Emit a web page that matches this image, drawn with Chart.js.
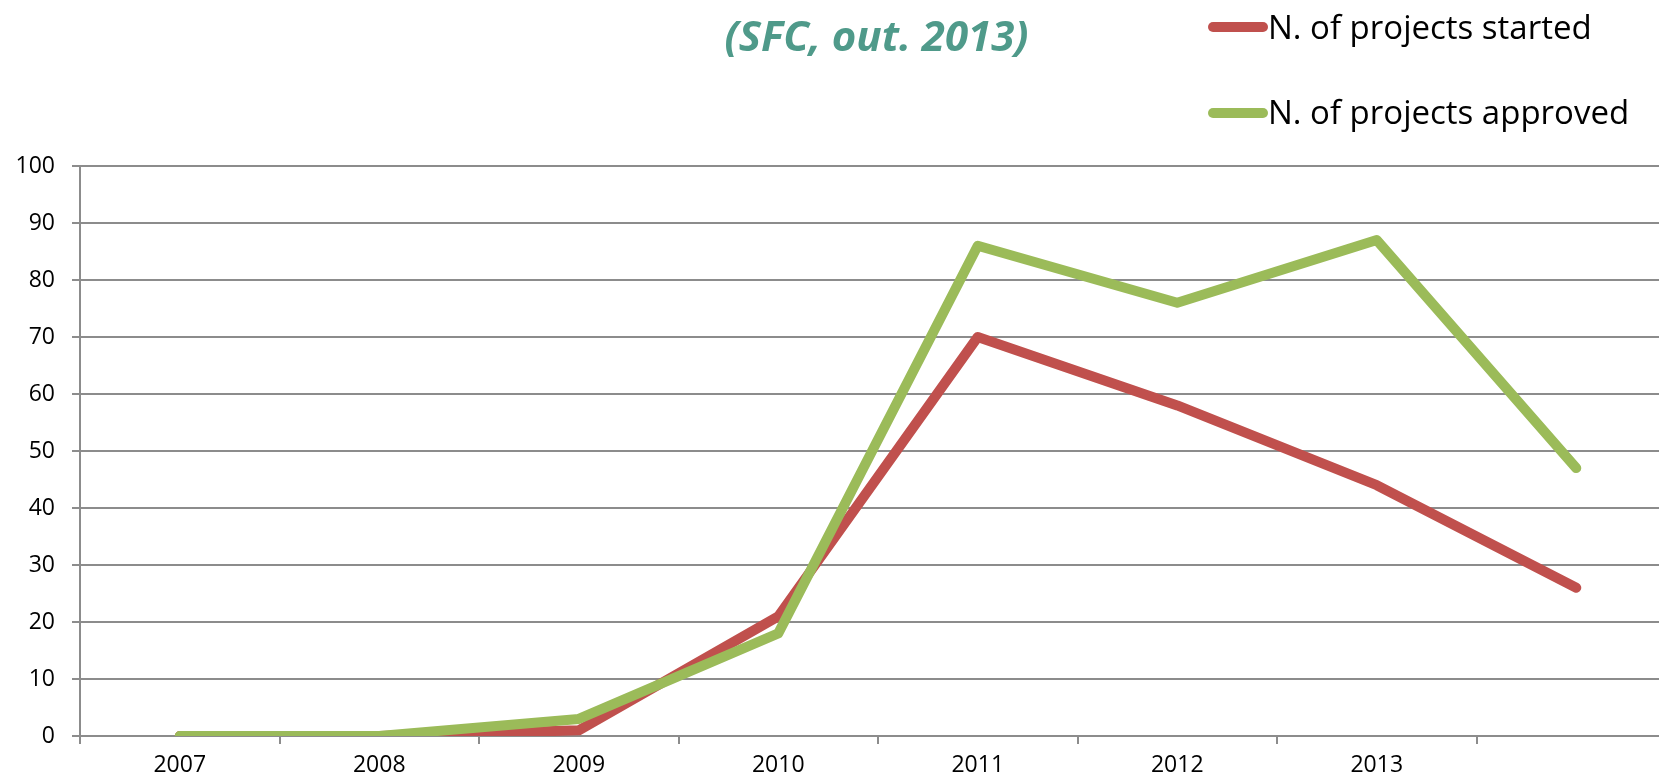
<!DOCTYPE html>
<html>
<head>
<meta charset="utf-8">
<script src="https://cdn.jsdelivr.net/npm/chart.js@4.4.1/dist/chart.umd.min.js"></script>
<style>
  html, body { margin: 0; padding: 0; background: #fff; overflow: hidden; }
  #wrap { position: relative; width: 1659px; height: 783px; overflow: hidden; }
  #chart { position: absolute; left: 0; top: 0; }
  .title {
    position: absolute; left: 0; width: 1753px; top: 14px;
    text-align: center; font: italic bold 42px/42px "Open Sans", sans-serif; color: #4f9a8a;
    white-space: nowrap;
  }
  .key { position: absolute; left: 1208px; width: 60px; height: 10px; border-radius: 5px; }
  .keytext {
    position: absolute; left: 1268px; font: 33px/33px "Open Sans", sans-serif; color: #000;
    white-space: nowrap;
  }
</style>
</head>
<body>
<div id="wrap">
  <canvas id="chart" width="1680" height="783"></canvas>
  <div class="title">(SFC, out. 2013)</div>
  <div class="key" style="top:22px; background:#c0504d"></div>
  <div class="keytext" style="top:10px">N. of projects started</div>
  <div class="key" style="top:108px; background:#9bbb59"></div>
  <div class="keytext" style="top:95px">N. of projects approved</div>
</div>
<script>
// ─── DATA ─────────────────────────────────────────────────────────────────────
const years = ['2007', '2008', '2009', '2010', '2011', '2012', '2013', ''];
const started = [0, 0, 1, 21, 70, 58, 44, 26];
const approved = [0, 0, 3, 18, 86, 76, 87, 47];
const yTicks = [0, 10, 20, 30, 40, 50, 60, 70, 80, 90, 100];

const axisGray = '#8c8c8c';
const tickFont = { family: '"Open Sans", sans-serif', size: 23 };

const ctx = document.getElementById('chart').getContext('2d');
new Chart(ctx, {
  type: 'line',
  data: {
    labels: years,
    datasets: [
      {
        label: 'N. of projects started',
        data: started,
        borderColor: '#c0504d',
        borderWidth: 10,
        borderCapStyle: 'round',
        borderJoinStyle: 'round',
        pointRadius: 0,
        tension: 0,
        order: 1
      },
      {
        label: 'N. of projects approved',
        data: approved,
        borderColor: '#9bbb59',
        borderWidth: 10,
        borderCapStyle: 'round',
        borderJoinStyle: 'round',
        pointRadius: 0,
        tension: 0,
        order: 0
      }
    ]
  },
  options: {
    responsive: false,
    devicePixelRatio: 1,
    animation: false,
    layout: { padding: { top: 166, right: 4, left: 0, bottom: 0 } },
    plugins: { legend: { display: false }, tooltip: { enabled: false }, title: { display: false } },
    scales: {
      x: {
        offset: true,
        grid: { offset: true, drawOnChartArea: false, color: axisGray, lineWidth: 2, tickLength: 8 },
        border: { color: axisGray, width: 2 },
        ticks: { color: '#000', font: tickFont, padding: 8, maxRotation: 0, autoSkip: false },
        afterFit: s => { s.height = 47; }
      },
      y: {
        min: 0,
        max: 100,
        afterBuildTicks: s => { s.ticks = yTicks.map(v => ({ value: v })); },
        grid: { color: axisGray, lineWidth: 2, tickLength: 8 },
        border: { color: axisGray, width: 2 },
        ticks: { color: '#000', font: tickFont, padding: 17 },
        afterFit: s => { s.width = 80; }
      }
    }
  }
});
</script>
</body>
</html>
